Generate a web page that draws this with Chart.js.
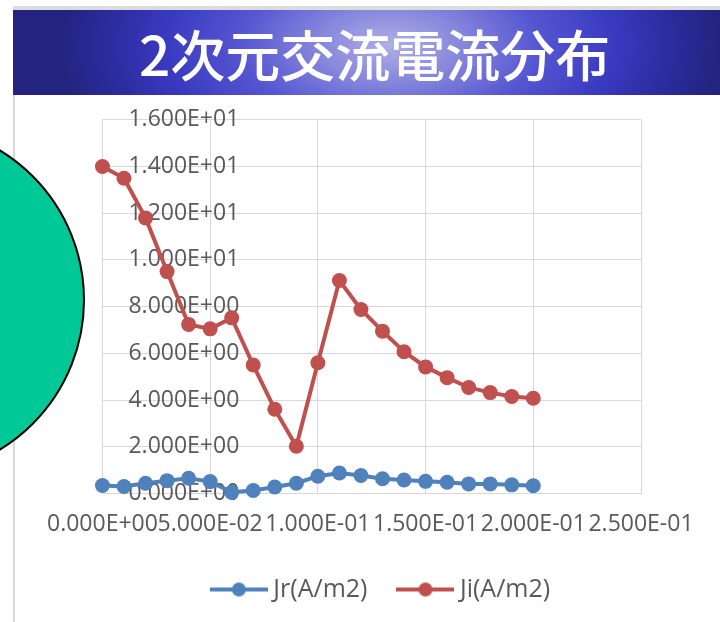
<!DOCTYPE html>
<html>
<head>
<meta charset="utf-8">
<script src="https://cdn.jsdelivr.net/npm/chart.js@4"></script>
<style>
  html, body { margin: 0; padding: 0; background: #fff; }
  body { width: 720px; height: 622px; position: relative; overflow: hidden; }
  .topline { position: absolute; left: 13px; top: 6px; width: 707px; height: 4px; background: #dcdcdc; }
  .banner {
    position: absolute; left: 13px; top: 10px; width: 707px; height: 85px;
    background: radial-gradient(ellipse 330px 170px at 377px 35px,
      #aeaee8 0%, #8686dc 22%, #5656d2 45%, #3a3ac0 68%, #2c2ca0 85%, #24247f 100%);
  }
  .banner h1 {
    position: absolute; left: 126px; top: 12px; margin: 0;
    font-family: "Noto Sans CJK JP", sans-serif; font-weight: 500;
    font-size: 55px; line-height: 60px; color: #fff;
  }
  .sideline { position: absolute; left: 13px; top: 95px; width: 2px; height: 527px; background: #d9d9d9; }
  .circle {
    position: absolute; left: -267px; top: 124px; width: 352px; height: 352px;
    border-radius: 50%; background: #00c896; border: 2px solid #000; box-sizing: border-box;
  }
  .wrap { position: absolute; left: 30px; top: 80px; width: 690px; height: 534px; }
</style>
</head>
<body>
<div class="topline"></div>
<div class="banner"><h1>2次元交流電流分布</h1></div>
<div class="sideline"></div>
<div class="circle"></div>
<div class="wrap"><canvas id="currentChart"></canvas></div>
<script>
// Current density along the radius
const positions = [0, 0.01, 0.02, 0.03, 0.04, 0.05, 0.06, 0.07, 0.08, 0.09, 0.10,
  0.11, 0.12, 0.13, 0.14, 0.15, 0.16, 0.17, 0.18, 0.19, 0.20];
const jr = [0.34, 0.30, 0.44, 0.55, 0.65, 0.51, 0.05, 0.13, 0.28, 0.44, 0.74,
  0.88, 0.77, 0.63, 0.58, 0.52, 0.48, 0.41, 0.41, 0.37, 0.33];
const ji = [14.0, 13.5, 11.8, 9.5, 7.24, 7.05, 7.52, 5.5, 3.61, 2.02, 5.6,
  9.12, 7.88, 6.95, 6.07, 5.42, 4.96, 4.54, 4.32, 4.15, 4.08];
const seriesNames = ['Jr(A/m2)', 'Ji(A/m2)'];
const seriesColors = ['#4f81bd', '#c0504d'];

const GRID = '#d9d9d9';
const LABEL = '#595959';
const FONT = "'Open Sans', Arial, sans-serif";

// Excel style scientific label: 5.000E-02
function sci(v) {
  const [m, e] = Number(v).toExponential(3).split('e');
  const n = parseInt(e, 10);
  return m + 'E' + (n < 0 ? '-' : '+') + String(Math.abs(n)).padStart(2, '0');
}

// legend swatch: short line with a dot in the middle
// (wider than the legend box so the text sits close to the line)
function swatch(color) {
  const c = document.createElement('canvas');
  c.width = 58; c.height = 16;
  const g = c.getContext('2d');
  g.strokeStyle = color; g.lineWidth = 4;
  g.beginPath(); g.moveTo(0, 8); g.lineTo(58, 8); g.stroke();
  g.fillStyle = color;
  g.beginPath(); g.arc(29, 8, 7, 0, Math.PI * 2); g.fill();
  return c;
}

const datasets = [jr, ji].map((vals, i) => ({
  label: seriesNames[i],
  data: positions.map((x, k) => ({ x, y: vals[k] })),
  borderColor: seriesColors[i],
  backgroundColor: seriesColors[i],
  borderWidth: 4,
  pointRadius: 7.5,
  pointHoverRadius: 7.5,
  pointBorderWidth: 0,
  tension: 0,
  clip: false,
}));

new Chart(document.getElementById('currentChart'), {
  type: 'line',
  data: { datasets },
  options: {
    responsive: true,
    maintainAspectRatio: false,
    animation: false,
    layout: { padding: { left: 72, right: 55, top: 0, bottom: 2 } },
    plugins: {
      tooltip: { enabled: false },
      legend: {
        position: 'bottom',
        labels: {
          color: LABEL,
          font: { family: FONT, size: 25 },
          usePointStyle: true,
          pointStyleWidth: 44,
          boxHeight: 16,
          padding: 36,
          generateLabels: (chart) => {
            const items = Chart.defaults.plugins.legend.labels.generateLabels(chart);
            items.forEach((it, i) => { it.pointStyle = swatch(seriesColors[i]); });
            return items;
          }
        }
      }
    },
    scales: {
      x: {
        type: 'linear',
        min: 0, max: 0.25,
        afterFit: (s) => { s.height = 47.5; },
        grid: { color: GRID, lineWidth: 1, drawTicks: false },
        border: { color: GRID, width: 1 },
        ticks: {
          stepSize: 0.05, padding: 17, color: LABEL, maxRotation: 0, autoSkip: false,
          font: { family: FONT, size: 23 },
          callback: (v) => sci(v)
        }
      },
      y: {
        min: 0, max: 16,
        afterFit: (s) => { s.width = 0; },
        grid: { color: GRID, lineWidth: 1, drawTicks: false },
        border: { color: GRID, width: 1 },
        ticks: {
          stepSize: 2, mirror: true, padding: 26, color: LABEL,
          font: { family: FONT, size: 23 },
          callback: (v) => sci(v)
        }
      },
      // empty spacer on the right, keeps the legend a little right of the plot centre
      spacer: {
        type: 'linear', position: 'right',
        afterFit: (s) => { s.width = 24; },
        grid: { display: false }, border: { display: false }, ticks: { display: false }
      }
    }
  }
});
</script>
</body>
</html>
